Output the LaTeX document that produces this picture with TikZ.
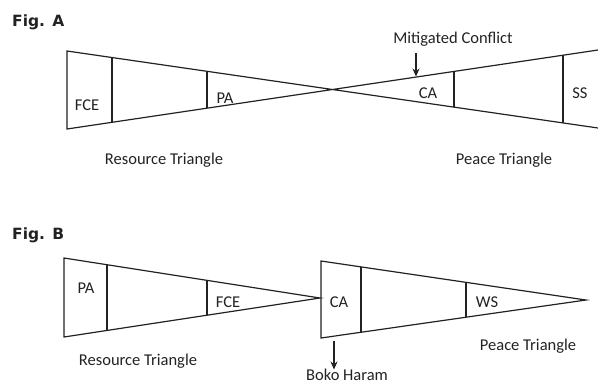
\documentclass[tikz,border=0pt]{standalone}
\usepackage{fontspec}
\setmainfont{Carlito}
\newfontfamily\titlefont{DejaVu Sans}
\usetikzlibrary{arrows.meta}
\definecolor{ink}{HTML}{222222}
\tikzset{
  edge/.style={draw=ink, line width=1.2pt, line join=miter},
  lbl/.style={font=\fontsize{16.5}{18}\selectfont, text=ink, inner sep=0pt},
  ttl/.style={font=\titlefont\bfseries\fontsize{15.5}{17}\selectfont, text=ink, inner sep=0pt, anchor=west},
  pointer/.style={draw=ink, line width=1.1pt, -{Stealth[length=8pt,width=7pt]}}
}
\begin{document}
\begin{tikzpicture}[x=1pt,y=-1pt]
\useasboundingbox (0,0) rectangle (598,384);
% ---------- Fig. A ----------
\node[ttl] (titleA) at (12,22) {Fig. A};
\coordinate (A1) at (67,51);
\coordinate (A2) at (67,129);
\coordinate (A3) at (598,128);
\coordinate (A4) at (598,50);
\draw[edge] (A3) -- (A1) -- (A2) -- (A4);
\coordinate (a1t) at (112,57.5);  \coordinate (a1b) at (112,122.3);
\coordinate (a2t) at (207,71.3);  \coordinate (a2b) at (207,108.2);
\coordinate (a3t) at (454,71.4);  \coordinate (a3b) at (454,107.1);
\coordinate (a4t) at (563,55.2);  \coordinate (a4b) at (563,122.9);
\draw[edge] (a1t) -- (a1b);
\draw[edge] (a2t) -- (a2b);
\draw[edge] (a3t) -- (a3b);
\draw[edge] (a4t) -- (a4b);
\node[lbl] (fceA) at (87,105) {FCE};
\node[lbl] (paA) at (225,98) {PA};
\node[lbl] (caA) at (428,93) {CA};
\node[lbl] (ssA) at (580,93) {SS};
\node[lbl] (resA) at (164,160) {Resource Triangle};
\node[lbl] (peaceA) at (504,160) {Peace Triangle};
\node[lbl] (mit) at (453,39) {Mitigated Conflict};
\coordinate (mitS) at (416,53);
\coordinate (mitE) at (416,76.5);
\draw[pointer] (mitS) -- (mitE);
% ---------- Fig. B ----------
\node[ttl] (titleB) at (12,235) {Fig. B};
\coordinate (B1) at (64,258);
\coordinate (B2) at (64,337);
\coordinate (P) at (320,298);
\draw[edge] (P) -- (B1) -- (B2) -- cycle;
\coordinate (b1t) at (107,264.7); \coordinate (b1b) at (107,330.4);
\coordinate (b2t) at (207,280.3); \coordinate (b2b) at (207,315.2);
\draw[edge] (b1t) -- (b1b);
\draw[edge] (b2t) -- (b2b);
\coordinate (C1) at (321,261);
\coordinate (C2) at (321,338);
\coordinate (Q) at (586,300);
\draw[edge] (Q) -- (C1) -- (C2) -- cycle;
\coordinate (c1t) at (361,266.9); \coordinate (c1b) at (361,332.3);
\coordinate (c2t) at (466,282.3); \coordinate (c2b) at (466,317.2);
\draw[edge] (c1t) -- (c1b);
\draw[edge] (c2t) -- (c2b);
\node[lbl] (paB) at (86,288) {PA};
\node[lbl] (fceB) at (228,302) {FCE};
\node[lbl] (caB) at (339,302) {CA};
\node[lbl] (wsB) at (487,302) {WS};
\node[lbl] (resB) at (138,361) {Resource Triangle};
\node[lbl] (peaceB) at (528,346) {Peace Triangle};
\node[lbl] (boko) at (347,374.5) {Boko Haram};
\coordinate (bokoS) at (334,341);
\draw[pointer] (bokoS) -- ([yshift=-1pt]boko.north -| bokoS);
\end{tikzpicture}
\end{document}
